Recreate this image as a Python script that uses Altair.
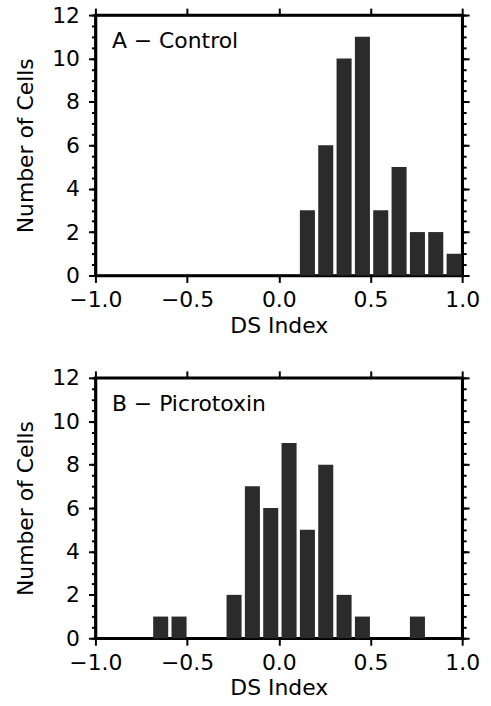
import altair as alt
import pandas as pd

# --- data ---
ctrl_bin_start = [0.1, 0.2, 0.3, 0.4, 0.5, 0.6, 0.7, 0.8, 0.9]
ctrl_counts = [3, 6, 10, 11, 3, 5, 2, 2, 1]

picro_bin_start = [-0.7, -0.6, -0.3, -0.2, -0.1, 0.0, 0.1, 0.2, 0.3, 0.4, 0.7]
picro_counts = [1, 1, 2, 7, 6, 9, 5, 8, 2, 1, 1]

bin_width = 0.1
x_ticks = [-1.0, -0.5, 0.0, 0.5, 1.0]
y_major = [0, 2, 4, 6, 8, 10, 12]
y_minor = [i * 0.5 for i in range(25)]
panel_labels = ["A \u2212 Control", "B \u2212 Picrotoxin"]

FONT = "DejaVu Sans"
BAR = "#2b2b2b"
TICK = "black"
W, H = 369, 262

xscale = alt.Scale(domain=[-1, 1], nice=False, zero=False)
yscale = alt.Scale(domain=[0, 12], nice=False)

common_axis = dict(
    grid=False, ticks=True, domainColor="black", domainWidth=2.5,
    tickColor=TICK, tickWidth=2, labelFont=FONT, labelFontSize=22,
    labelColor="black", titleFont=FONT, titleFontSize=22,
    titleFontWeight="normal", titleColor="black", labelOverlap=False,
    labelFlush=False,
)

bottom_axis = alt.Axis(orient="bottom", values=x_ticks, format=".1f",
                       tickSize=7, labelPadding=7, titlePadding=5,
                       title="DS Index", **common_axis)
top_axis = alt.Axis(orient="top", values=x_ticks, tickSize=7, labels=False,
                    title=None, **common_axis)
left_axis = alt.Axis(orient="left", values=y_major, format="d",
                     tickSize=7, labelPadding=9, titlePadding=14,
                     title="Number of Cells", **common_axis)
right_axis = alt.Axis(orient="right", values=y_major, tickSize=7,
                      labels=False, title=None, **common_axis)
left_minor = alt.Axis(orient="left", values=y_minor, tickSize=4,
                      labels=False, title=None, **common_axis)
right_minor = alt.Axis(orient="right", values=y_minor, tickSize=4,
                       labels=False, title=None, **common_axis)


def panel(starts, counts, label):
    df = pd.DataFrame({
        "start": starts,
        "count": counts,
    })
    df["x0"] = df["start"] + 0.015
    df["x1"] = df["start"] + bin_width - 0.003
    base = alt.Chart(df)
    bars = base.mark_rect(color=BAR).encode(
        x=alt.X("x0:Q", scale=xscale, axis=bottom_axis),
        x2="x1:Q",
        y=alt.Y("count:Q", scale=yscale, axis=left_axis),
        y2=alt.datum(0),
    )
    frame = base.mark_point(opacity=0).encode(
        x=alt.X("x0:Q", scale=xscale, axis=top_axis),
        y=alt.Y("count:Q", scale=yscale, axis=right_axis),
    )
    minor_l = base.mark_point(opacity=0).encode(
        x=alt.X("x0:Q", scale=xscale, axis=None),
        y=alt.Y("count:Q", scale=yscale, axis=left_minor),
    )
    minor_r = base.mark_point(opacity=0).encode(
        x=alt.X("x0:Q", scale=xscale, axis=None),
        y=alt.Y("count:Q", scale=yscale, axis=right_minor),
    )
    lab = alt.Chart(pd.DataFrame({"x": [-0.91], "y": [10.8], "t": [label]})).mark_text(
        align="left", baseline="middle", font=FONT, fontSize=22, color="black"
    ).encode(
        x=alt.X("x:Q", scale=xscale, axis=None),
        y=alt.Y("y:Q", scale=yscale, axis=None),
        text="t:N",
    )
    return alt.layer(bars, frame, minor_l, minor_r, lab).resolve_axis(
        x="independent", y="independent"
    ).properties(width=W, height=H)


chart = alt.vconcat(
    panel(ctrl_bin_start, ctrl_counts, panel_labels[0]),
    panel(picro_bin_start, picro_counts, panel_labels[1]),
    spacing=27,
).properties(
    padding={"left": 13, "top": 0, "right": 10, "bottom": 2},
    background="white",
).configure_view(stroke="black", strokeWidth=2.5)

chart.save("out.html", embed_options={"renderer": "svg", "actions": False})
